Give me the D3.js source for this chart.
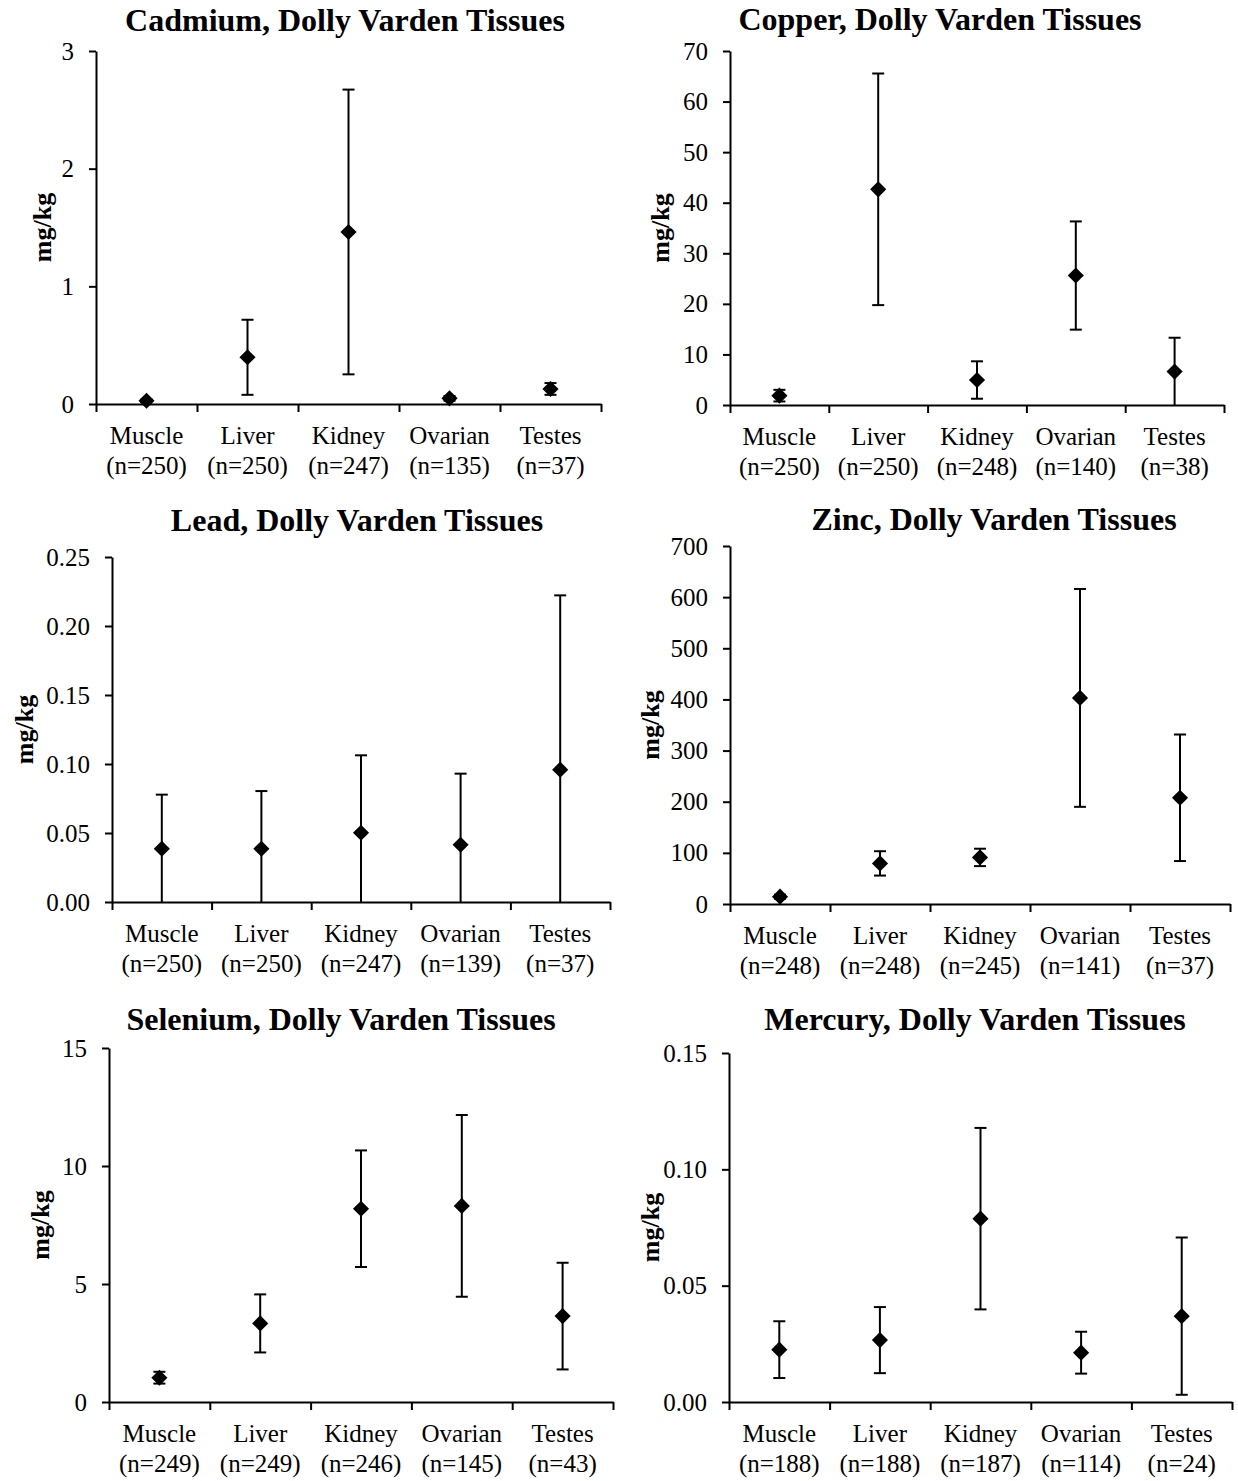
<!DOCTYPE html>
<html>
<head>
<meta charset="utf-8">
<script src="https://cdn.jsdelivr.net/npm/d3@7"></script>
<style>
  body { margin: 0; background: #fff; }
  text { font-family: "Liberation Serif", "Times New Roman", serif; fill: #000; }
</style>
</head>
<body>
<script>
var width = 1238;
var height = 1481;

// categories shared by every panel
var tissues = ["Muscle", "Liver", "Kidney", "Ovarian", "Testes"];

// cadmium
var cadmiumN = [250, 250, 247, 135, 37];
var cadmiumMean = [0.028, 0.397, 1.462, 0.048, 0.128];
var cadmiumSD = [0.01, 0.319, 1.21, 0.02, 0.05];
var cadmiumTicks = [0, 1, 2, 3];

// copper
var copperN = [250, 250, 248, 140, 38];
var copperMean = [1.85, 42.65, 4.94, 25.6, 6.6];
var copperSD = [1.15, 22.9, 3.7, 10.7, 6.7];
var copperTicks = [0, 10, 20, 30, 40, 50, 60, 70];

// lead
var leadN = [250, 250, 247, 139, 37];
var leadMean = [0.0386, 0.0386, 0.0502, 0.0415, 0.0959];
var leadSD = [0.0392, 0.0418, 0.0561, 0.0515, 0.1263];
var leadTicks = [0, 0.05, 0.10, 0.15, 0.20, 0.25];

// zinc
var zincN = [248, 248, 245, 141, 37];
var zincMean = [14.3, 79.4, 91.1, 403, 207.7];
var zincSD = [4, 23.8, 17, 213, 123.7];
var zincTicks = [0, 100, 200, 300, 400, 500, 600, 700];

// selenium
var seleniumN = [249, 249, 246, 145, 43];
var seleniumMean = [1.03, 3.33, 8.19, 8.31, 3.64];
var seleniumSD = [0.25, 1.23, 2.47, 3.85, 2.26];
var seleniumTicks = [0, 5, 10, 15];

// mercury
var mercuryN = [188, 188, 187, 114, 24];
var mercuryMean = [0.0225, 0.0266, 0.0788, 0.0212, 0.0369];
var mercurySD = [0.0122, 0.0142, 0.039, 0.009, 0.0338];
var mercuryTicks = [0, 0.05, 0.10, 0.15];

var panels = [
  {title: "Cadmium, Dolly Varden Tissues", n: cadmiumN, mean: cadmiumMean, sd: cadmiumSD, ticks: cadmiumTicks, fmt: d3.format("d"),
   left: 96, right: 601, top: 51, bottom: 404, titleX: 345, titleY: 31, labelX: 42},
  {title: "Copper, Dolly Varden Tissues", n: copperN, mean: copperMean, sd: copperSD, ticks: copperTicks, fmt: d3.format("d"),
   left: 730, right: 1224, top: 51, bottom: 405, titleX: 940, titleY: 30, labelX: 660},
  {title: "Lead, Dolly Varden Tissues", n: leadN, mean: leadMean, sd: leadSD, ticks: leadTicks, fmt: d3.format(".2f"),
   left: 112, right: 610, top: 557, bottom: 902, titleX: 357, titleY: 531, labelX: 24},
  {title: "Zinc, Dolly Varden Tissues", n: zincN, mean: zincMean, sd: zincSD, ticks: zincTicks, fmt: d3.format("d"),
   left: 730, right: 1230, top: 546, bottom: 904, titleX: 994, titleY: 530, labelX: 650},
  {title: "Selenium, Dolly Varden Tissues", n: seleniumN, mean: seleniumMean, sd: seleniumSD, ticks: seleniumTicks, fmt: d3.format("d"),
   left: 109, right: 613, top: 1048, bottom: 1402, titleX: 341, titleY: 1030, labelX: 40},
  {title: "Mercury, Dolly Varden Tissues", n: mercuryN, mean: mercuryMean, sd: mercurySD, ticks: mercuryTicks, fmt: d3.format(".2f"),
   left: 729, right: 1232, top: 1053, bottom: 1402, titleX: 975, titleY: 1030, labelX: 650}
];

var svg = d3.select("body").append("svg")
    .attr("width", width)
    .attr("height", height);

//diamond marker = square turned 45deg
var diamond = d3.symbol().type(d3.symbolSquare).size(130);

function drawPanel(p){
    var g = svg.append("g");

    var y = d3.scaleLinear()
        .domain([p.ticks[0], p.ticks[p.ticks.length - 1]])
        .range([p.bottom, p.top]);
    var x = d3.scaleBand().domain(tissues).range([p.left, p.right]);
    //boundary scale for the category tick marks
    var xb = d3.scaleLinear().domain([0, tissues.length]).range([p.left, p.right]);

    //title
    g.append("text")
        .attr("x", p.titleX)
        .attr("y", p.titleY)
        .attr("text-anchor", "middle")
        .style("font-size", "32px")
        .style("font-weight", "bold")
        .text(p.title);

    //y label
    g.append("text")
        .attr("transform", "translate(" + p.labelX + "," + ((p.top + p.bottom) / 2) + "),rotate(-90)")
        .attr("text-anchor", "middle")
        .attr("dominant-baseline", "central")
        .style("font-size", "26px")
        .style("font-weight", "bold")
        .text("mg/kg");

    //y axis
    var yAxis = g.append("g")
        .attr("transform", "translate(" + p.left + ",0)")
        .call(d3.axisLeft(y).tickValues(p.ticks).tickFormat(p.fmt).tickSize(7).tickSizeOuter(0).tickPadding(15));
    yAxis.selectAll("text").style("font-size", "25px").style("font-family", "Liberation Serif");
    yAxis.selectAll("line, path").attr("stroke", "#000").attr("stroke-width", 2);

    //x axis (ticks at category boundaries)
    var xAxis = g.append("g")
        .attr("transform", "translate(0," + p.bottom + ")")
        .call(d3.axisBottom(xb).tickValues(d3.range(tissues.length + 1)).tickFormat("").tickSize(8).tickSizeOuter(0));
    xAxis.selectAll("line, path").attr("stroke", "#000").attr("stroke-width", 2);

    //category labels
    var lab = g.selectAll(".cat").data(tissues).enter().append("text")
        .attr("class", "cat")
        .attr("text-anchor", "middle")
        .style("font-size", "25px");
    lab.append("tspan")
        .attr("x", function(d){ return x(d) + x.bandwidth() / 2; })
        .attr("y", p.bottom + 40)
        .text(function(d){ return d; });
    lab.append("tspan")
        .attr("x", function(d){ return x(d) + x.bandwidth() / 2; })
        .attr("y", p.bottom + 70)
        .text(function(d, i){ return "(n=" + p.n[i] + ")"; });

    var values = tissues.map(function(t, i){
        return {t: t, mean: p.mean[i], lo: p.mean[i] - p.sd[i], hi: p.mean[i] + p.sd[i]};
    });
    var ymin = y.domain()[0];

    //error bars, clipped at the axis (no cap when clipped)
    var eb = g.selectAll(".err").data(values).enter().append("g")
        .attr("class", "err")
        .attr("stroke", "#000")
        .attr("stroke-width", 2);
    eb.append("line")
        .attr("x1", function(d){ return x(d.t) + x.bandwidth() / 2; })
        .attr("x2", function(d){ return x(d.t) + x.bandwidth() / 2; })
        .attr("y1", function(d){ return y(Math.max(d.lo, ymin)); })
        .attr("y2", function(d){ return y(d.hi); });
    eb.append("line")
        .attr("x1", function(d){ return x(d.t) + x.bandwidth() / 2 - 6; })
        .attr("x2", function(d){ return x(d.t) + x.bandwidth() / 2 + 6; })
        .attr("y1", function(d){ return y(d.hi); })
        .attr("y2", function(d){ return y(d.hi); });
    eb.filter(function(d){ return d.lo >= ymin; }).append("line")
        .attr("x1", function(d){ return x(d.t) + x.bandwidth() / 2 - 6; })
        .attr("x2", function(d){ return x(d.t) + x.bandwidth() / 2 + 6; })
        .attr("y1", function(d){ return y(d.lo); })
        .attr("y2", function(d){ return y(d.lo); });

    //mean markers
    g.selectAll(".pt").data(values).enter().append("path")
        .attr("class", "pt")
        .attr("d", diamond)
        .attr("transform", function(d){
            return "translate(" + (x(d.t) + x.bandwidth() / 2) + "," + y(d.mean) + "),rotate(45)";
        })
        .attr("fill", "#000");
}

panels.forEach(drawPanel);
</script>
</body>
</html>
